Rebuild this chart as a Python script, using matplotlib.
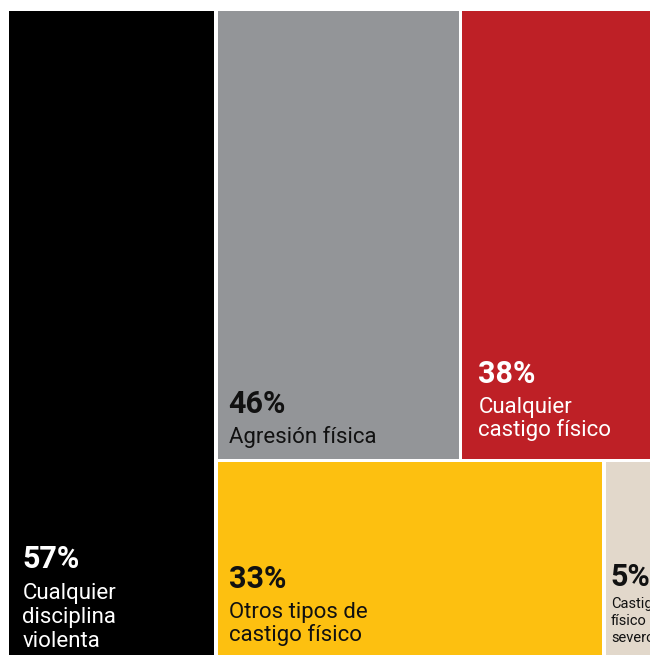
import matplotlib
matplotlib.use("Agg")
import matplotlib.pyplot as plt
from matplotlib.patches import Rectangle

# ---- data ----
values = [57, 46, 38, 33, 5]
pct_labels = ["57%", "46%", "38%", "33%", "5%"]
names = ["Cualquier\ndisciplina\nviolenta", "Agresión física",
         "Cualquier\ncastigo físico", "Otros tipos de\ncastigo físico",
         "Castigo\nfísico\nsevero"]
colors = ["#000000", "#939598", "#BE2026", "#FDC010", "#E2D8CB"]
text_colors = ["white", "#111111", "white", "#111111", "#111111"]

FONT = "Roboto"

# ---- layout (pixel space) ----
W_FIG, H_FIG = 650, 655
X0, Y0, W, H = 7, 9, 656, 656
GAP = 3.5

fig = plt.figure(figsize=(6.5, 6.55), dpi=100)
ax = fig.add_axes([0, 0, 1, 1])
ax.set_xlim(0, W_FIG)
ax.set_ylim(H_FIG, 0)
ax.axis("off")

total = sum(values)
rects = []
cw = W * values[0] / total
rects.append((X0, Y0, cw, H))
rest = values[1:]
rest_total = sum(rest)
rows = [rest[0:2], rest[2:4]]
ry = Y0
rx0 = X0 + cw
rw = W - cw
for row in rows:
    rh = H * sum(row) / rest_total
    xx = rx0
    for v in row:
        ww = rw * v / sum(row)
        rects.append((xx, ry, ww, rh))
        xx += ww
    ry += rh

text_pad_x = [13.5, 11, 16, 11, 5]
name_size = [16, 16, 16, 16, 10.5]
name_line = [24, 24, 23, 23, 17]
pct_size = [22, 22, 22, 22, 22]
pct_gap = [31, 30, 30, 30, 22]
bottom_pad = [16, 16, 23, 22, 21]

for i, (x, y, w, h) in enumerate(rects):
    left, top = x + GAP / 2, y + GAP / 2
    right, bot = x + w - GAP / 2, y + h - GAP / 2
    ax.add_patch(Rectangle((left, top), right - left, bot - top,
                           facecolor=colors[i], edgecolor="none"))
    lines = names[i].split("\n")
    tx = left + text_pad_x[i]
    last_base = bot - bottom_pad[i]
    first_base = last_base - (len(lines) - 1) * name_line[i]
    for k, ln in enumerate(lines):
        ax.text(tx, first_base + k * name_line[i], ln, color=text_colors[i],
                fontsize=name_size[i], family=FONT, va="baseline",
                ha="left")
    ax.text(tx, first_base - pct_gap[i], pct_labels[i], color=text_colors[i],
            fontsize=pct_size[i], family=FONT, weight="bold",
            va="baseline", ha="left")

fig.savefig("out.png", dpi=100, facecolor="white")
